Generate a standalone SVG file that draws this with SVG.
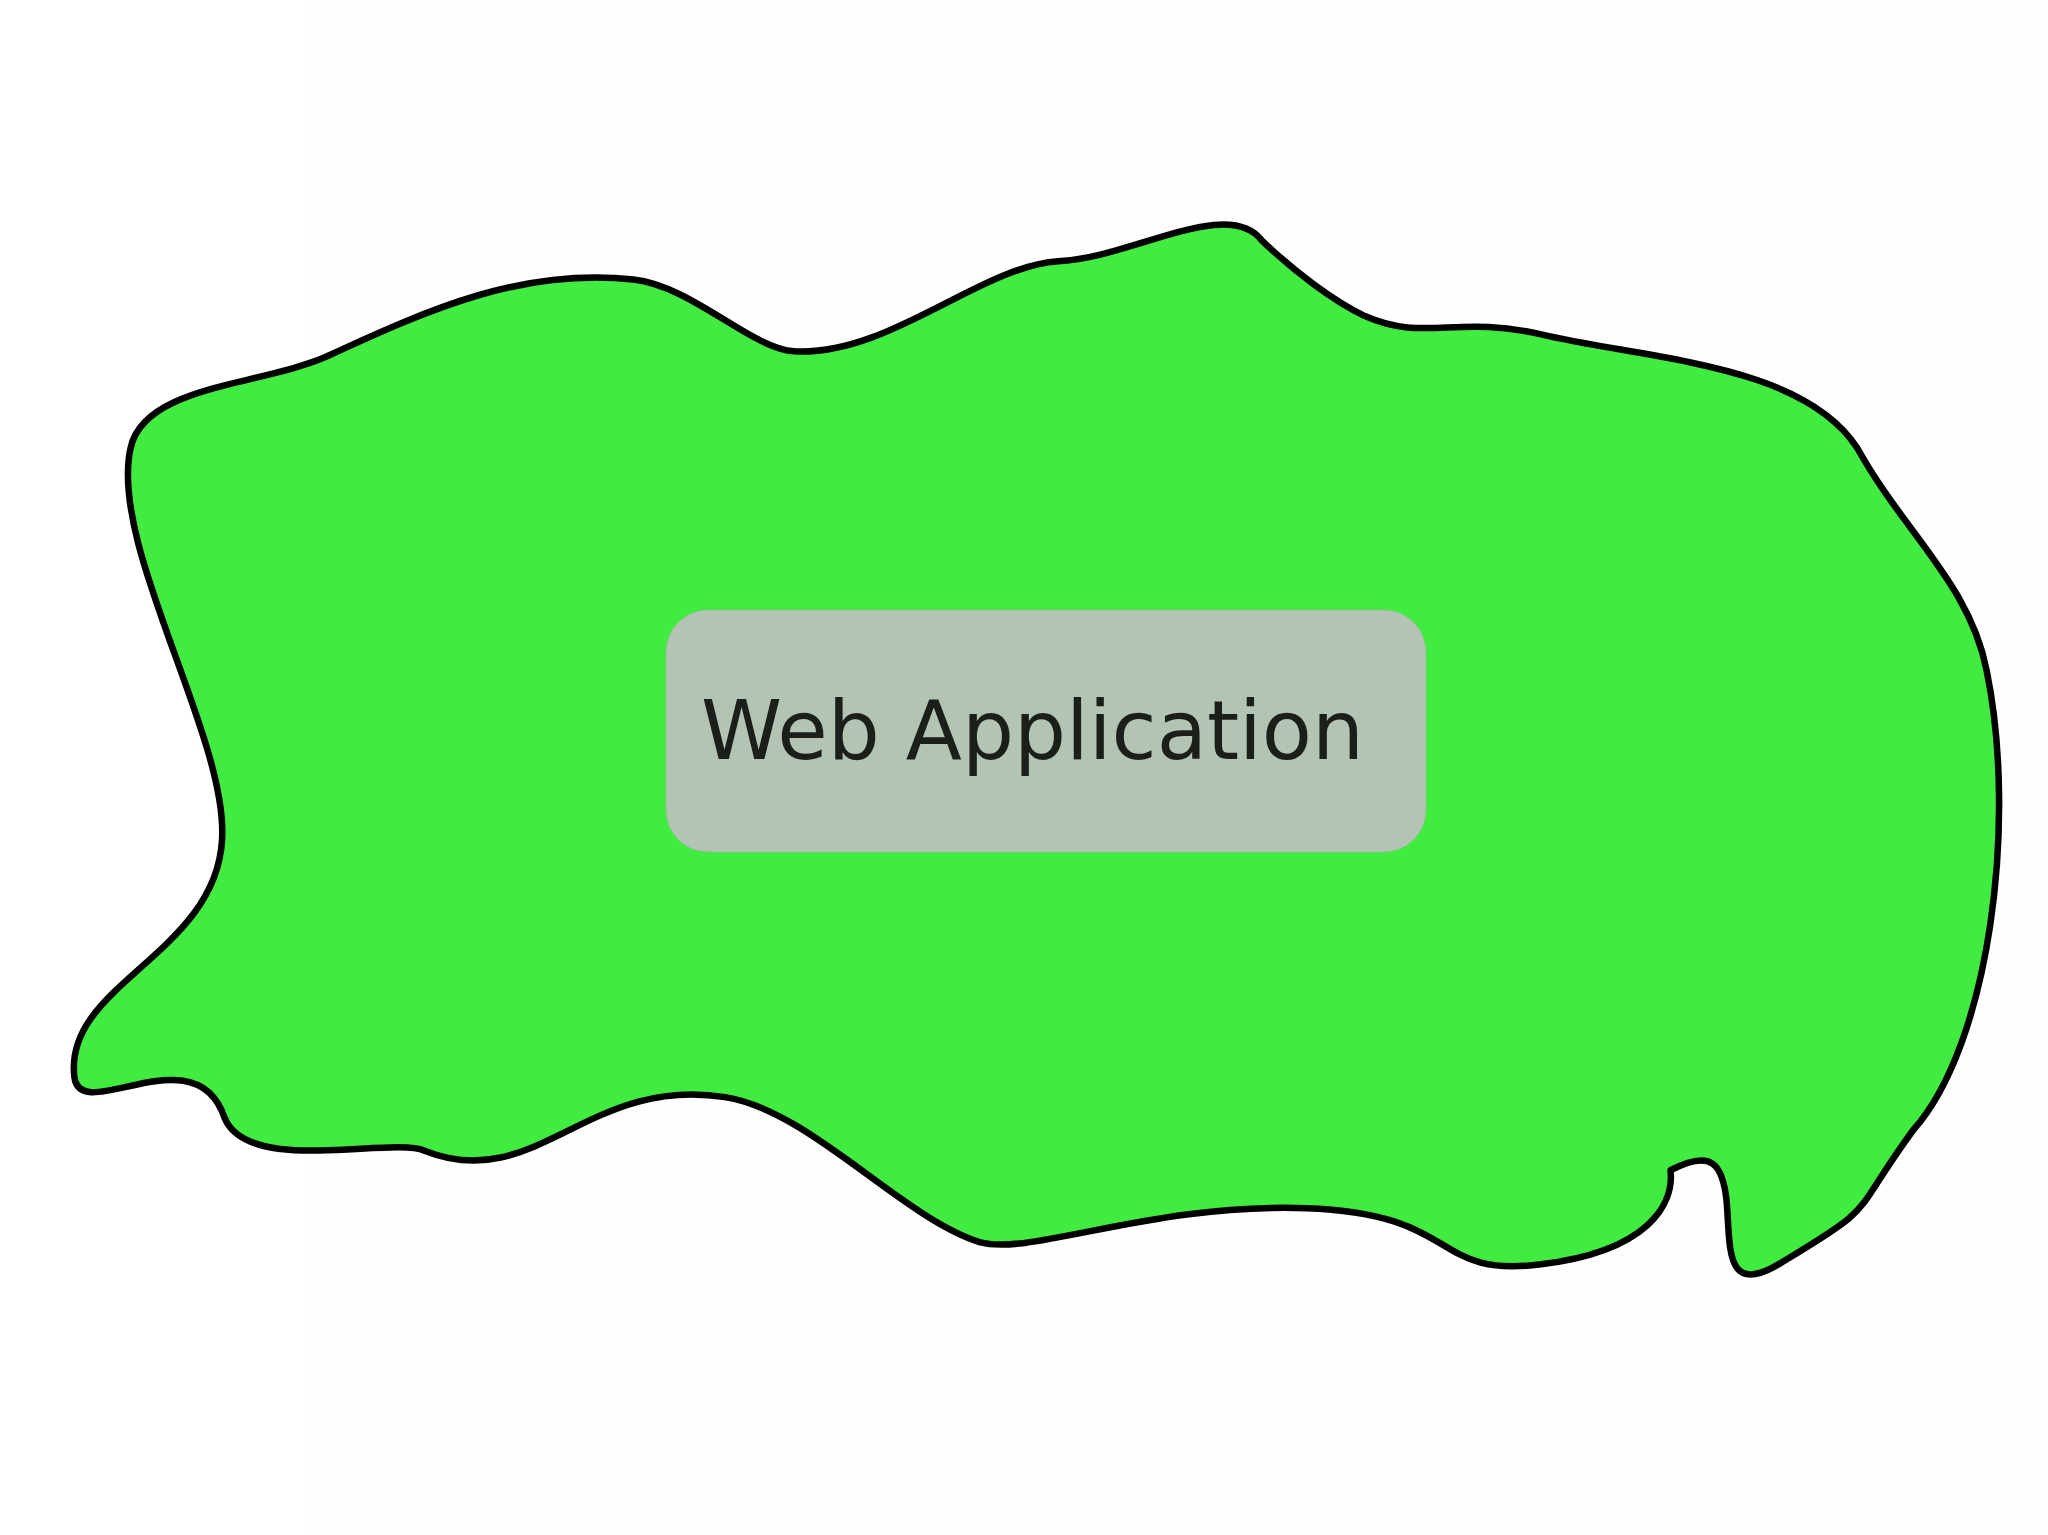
<svg xmlns="http://www.w3.org/2000/svg" width="2048" height="1535" viewBox="0 0 2048 1535">
<style>
.blob{fill:#41ec41;stroke:#000;stroke-width:5;stroke-linejoin:round}
.box{fill:#b3c4b5;stroke:#9fb0a0;stroke-width:0.5}
.label{font-family:"DejaVu Sans",sans-serif;font-size:82px;fill:#1a1f1a}
</style>
<rect x="0" y="0" width="2048" height="1535" fill="#ffffff"/>
<rect x="303" y="0" width="1745" height="1535" fill="#fefefe"/>
<g id="web-application-area" transform="scale(1.3061)">
<path class="blob" d="M 966,184 C 990,207 1020,230 1045,242 C 1090,262 1115,241 1180,256 C 1260,275 1380,278 1422,343 C 1458,408 1508,447 1521,513 C 1545,630 1523,800 1465,865 C 1416,932 1440,921 1365,966 C 1320,995 1325,955 1322,920 C 1319,890 1310,880 1279,896 C 1282,922 1262,958 1180,968 C 1095,979 1120,929 1000,925 C 880,921 790,962 750,951 C 690,932 620,850 555,840 C 450,823 410,915 325,881 C 300,870 190,900 172,856 C 150,790 62,862 57,825 C 48,754 165,731 170,643 C 175,565 83,418 100,343 C 110,295 200,295 250,273 C 330,236 400,205 485,214 C 530,219 575,267 608,269 C 680,273 750,204 810,200 C 865,198 940,150 966,184 Z"/>
</g>
<g id="web-application">
<rect class="box" x="666" y="610" width="760" height="242" rx="42" ry="42"/>
<text class="label" x="701" y="759">Web Application</text>
</g>
<g id="connectors"/>
</svg>
